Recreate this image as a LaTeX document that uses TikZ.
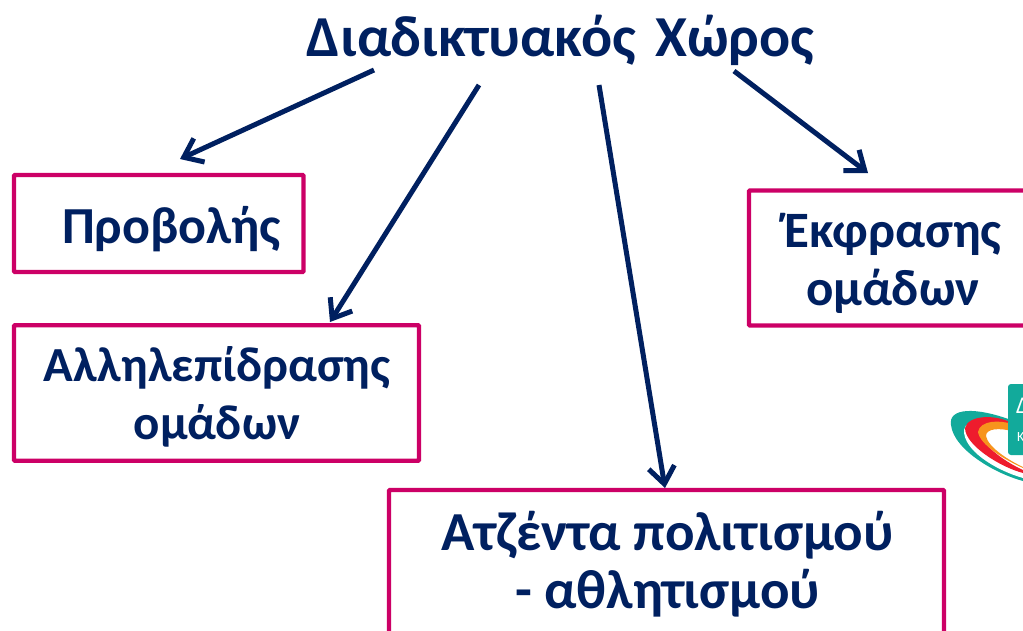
\documentclass[tikz,border=0pt]{standalone}
\usepackage{fontspec}
\setmainfont{Carlito}
\definecolor{navy}{RGB}{0,32,96}
\definecolor{mag}{RGB}{204,0,102}
\definecolor{tealL}{RGB}{18,170,155}
\definecolor{redL}{RGB}{238,28,45}
\definecolor{orL}{RGB}{247,148,29}
\usetikzlibrary{arrows.meta}
\tikzset{
  x=1pt,y=-1pt,
  box/.style={draw=mag,line width=4.2pt,rounded corners=0.8pt,fill=white,inner sep=0pt},
  lbl/.style={text=navy,font=\fontsize{#1}{58}\selectfont\bfseries,align=center,inner sep=0pt},
  title/.style={text=navy,font=\fontsize{58}{64}\selectfont\bfseries,inner sep=0pt},
  link/.style={draw=navy,line width=5pt,-{Straight Barb[length=17pt,width=26pt,line width=5pt]}}
}
\begin{document}
\begin{tikzpicture}
\useasboundingbox (0,0) rectangle (1023,630);
\clip (0,0) rectangle (1023,630);
\fill[white] (0,0) rectangle (1023,630);
% logo
\fill[tealL] (1023,481) .. controls (990,472) and (948,445) .. (951,420) .. controls (955,405) and (990,410) .. (1023,425) -- cycle;
\fill[white] (1023,478) .. controls (995,470) and (963,450) .. (964,430) .. controls (966,418) and (990,415) .. (1023,425) -- cycle;
\fill[redL] (1023,473) .. controls (1000,467) and (965,445) .. (965,428) .. controls (968,415) and (995,414) .. (1012,423) -- (1012,428) .. controls (995,424) and (980,423) .. (980,433) .. controls (982,445) and (1005,462) .. (1023,470) -- cycle;
\fill[orL] (1023,468) .. controls (1005,460) and (980,445) .. (978,432) .. controls (980,420) and (1000,420) .. (1012,424) -- (1012,431) .. controls (1000,428) and (986,428) .. (986,436) .. controls (988,447) and (1008,460) .. (1023,467) -- cycle;
\fill[tealL,rounded corners=3pt] (1008,384) rectangle (1040,455);
\node[text=white,font=\fontsize{24}{26}\selectfont,anchor=west,inner sep=0pt] (logoA) at (1016,406) {Δ};
\node[text=white,font=\fontsize{14}{15}\selectfont,anchor=west,inner sep=0pt] (logoB) at (1017,437) {Κ};
% title and boxes
\node[title] (t) at (560.5,40) {Διαδικτυακός\hspace{6pt} Χώρος};
\node[box,minimum width=289.5pt,minimum height=97pt] (a) at (158.7,223.5) {};
\node[box,minimum width=405pt,minimum height=135.5pt] (b) at (216.5,393) {};
\node[box,minimum width=555pt,minimum height=146pt] (c) at (666.5,563) {};
\node[box,minimum width=300pt,minimum height=135pt] (d) at (899,258) {};
\node[lbl=52] (aT) at (171.5,229) {Προβολής};
\node[lbl=49] (bT) at (217,396.5) {Αλληλεπίδρασης\\ομάδων};
\node[lbl=55] (cT) at (667.5,564) {Ατζέντα πολιτισμού\\- αθλητισμού};
\node[lbl=51] (dT) at (893,263) {Έκφρασης\\ομάδων};
% free ends
\coordinate (s1) at (374,70); \coordinate (e1) at (180,159);
\coordinate (s2) at (479,85); \coordinate (e2) at (330,322);
\coordinate (s3) at (599,85); \coordinate (e3) at (665,488);
\coordinate (s4) at (734,71); \coordinate (e4) at (868,173);
\draw[link] (s1) -- (e1);
\draw[link] (s2) -- (e2);
\draw[link] (s3) -- (e3);
\draw[link] (s4) -- (e4);
\end{tikzpicture}
\end{document}
